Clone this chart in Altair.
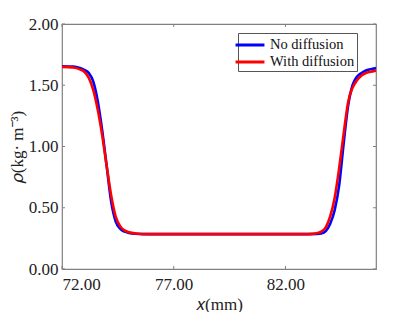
import altair as alt
import pandas as pd

x_vals = [72.0, 72.5, 72.8, 73.0, 73.2, 73.4, 73.6, 73.8, 74.0, 74.2, 74.4, 74.6,
          74.8, 75.0, 75.3, 75.6, 76.0, 77.0, 78.0, 79.0, 80.0, 81.0, 82.0, 83.0,
          83.4, 83.6, 83.8, 84.0, 84.2, 84.4, 84.6, 84.8, 85.0, 85.2, 85.4, 85.6,
          85.8, 86.05]
no_diff = [1.655, 1.652, 1.64, 1.625, 1.60, 1.53, 1.37, 1.13, 0.84, 0.55, 0.39, 0.33,
           0.305, 0.295, 0.288, 0.285, 0.285, 0.285, 0.285, 0.285, 0.285, 0.285, 0.285, 0.285,
           0.286, 0.29, 0.31, 0.37, 0.48, 0.68, 1.02, 1.33, 1.50, 1.57, 1.60, 1.62,
           1.63, 1.64]
with_diff = [1.65, 1.645, 1.63, 1.61, 1.56, 1.46, 1.30, 1.09, 0.84, 0.60, 0.43, 0.35,
             0.315, 0.30, 0.29, 0.286, 0.285, 0.285, 0.285, 0.285, 0.285, 0.285, 0.285, 0.285,
             0.292, 0.305, 0.34, 0.43, 0.58, 0.82, 1.10, 1.36, 1.48, 1.54, 1.58, 1.60,
             1.61, 1.62]
series = ["No diffusion", "With diffusion"]
colors = ["#0000ff", "#ff0000"]
x_ticks = [72, 77, 82]
y_ticks = [0.0, 0.5, 1.0, 1.5, 2.0]

rows = []
for name, ys in zip(series, [no_diff, with_diff]):
    for xv, yv in zip(x_vals, ys):
        rows.append({"x": xv, "rho": yv, "series": name})
df = pd.DataFrame(rows)

W, H = 314, 245
FONT = "Liberation Serif"
xs = alt.Scale(domain=[72, 86.05], nice=False, zero=False)
ys_ = alt.Scale(domain=[0, 2], nice=False)

lines = alt.Chart(df).mark_line(strokeWidth=2.6, interpolate="monotone", clip=True).encode(
    x=alt.X("x:Q", scale=xs,
            axis=alt.Axis(values=x_ticks, format=".2f", title="𝑥(mm)", ticks=False,
                          domain=False, grid=False, labelPadding=7, titlePadding=4)),
    y=alt.Y("rho:Q", scale=ys_,
            axis=alt.Axis(values=y_ticks, format=".2f", title="𝜌(kg· m⁻³)", ticks=False,
                          domain=False, grid=False, labelPadding=4, titlePadding=2)),
    color=alt.Color("series:N", scale=alt.Scale(domain=series, range=colors),
                    legend=alt.Legend(title=None, orient="none", legendX=176, legendY=9,
                                      symbolType="M-1.7,0H1.7", symbolSize=289,
                                      symbolStrokeWidth=3, labelFont=FONT, labelFontSize=14.5,
                                      labelColor="#111111", fillColor="white",
                                      strokeColor="#555555", padding=2, rowPadding=0,
                                      labelOffset=10, symbolOffset=0)),
    order=alt.Order("series:N"),
)

tick_df = pd.DataFrame({"v": y_ticks})
xt_df = pd.DataFrame({"v": x_ticks})
tc = "#808080"
yl = alt.Chart(tick_df).mark_rule(color=tc, strokeWidth=1).encode(
    y=alt.Y("v:Q", scale=ys_), x=alt.value(0), x2=alt.value(3))
yr = alt.Chart(tick_df).mark_rule(color=tc, strokeWidth=1).encode(
    y=alt.Y("v:Q", scale=ys_), x=alt.value(W - 3), x2=alt.value(W))
xb = alt.Chart(xt_df).mark_rule(color=tc, strokeWidth=1).encode(
    x=alt.X("v:Q", scale=xs), y=alt.value(H), y2=alt.value(H - 3))
xtp = alt.Chart(xt_df).mark_rule(color=tc, strokeWidth=1).encode(
    x=alt.X("v:Q", scale=xs), y=alt.value(0), y2=alt.value(3))

chart = alt.layer(yl, yr, xb, xtp, lines).properties(
    width=W, height=H, background="white",
    padding={"left": 0, "top": 7, "right": 5, "bottom": 0}
).configure_view(stroke="#808080", strokeWidth=1.2).configure_axis(
    labelFont=FONT, labelFontSize=17, labelColor="#222222",
    titleFont=FONT, titleFontSize=17, titleFontWeight="normal", titleColor="#222222"
)

chart.save("out.html", embed_options={"renderer": "svg", "actions": False})
